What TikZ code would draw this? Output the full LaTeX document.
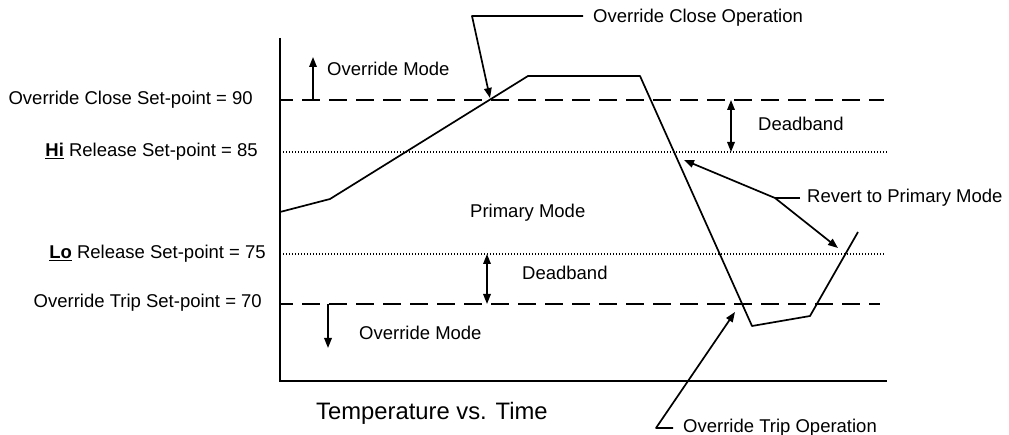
\documentclass[tikz,border=0pt]{standalone}
\usepackage{fontspec}
\setmainfont{Liberation Sans}
\usetikzlibrary{arrows.meta}

% bold, underlined lead word of a set-point label
\newcommand{\leadword}[1]{\setbox0\hbox{\textbf{#1}}\rlap{\raisebox{-2.6pt}{\rule{\wd0}{1.8pt}}}\box0\relax}

\tikzset{
  lbl/.style={font=\fontsize{18.5}{22}\selectfont, inner sep=0pt},
  title/.style={font=\fontsize{23.8}{28}\selectfont, inner sep=0pt},
  axisline/.style={line width=2pt},
  trace/.style={line width=1.7pt, line join=round},
  dashline/.style={line width=2pt, dash pattern=on 18pt off 9pt, dash phase=5pt},
  dotline/.style={line width=1.2pt, dash pattern=on 1.2pt off 1.8pt},
  callout/.style={line width=1.7pt, line join=round},
  tip/.style={-{Triangle[length=10pt,width=7.5pt]}},
  twotip/.style={{Triangle[length=10pt,width=7.5pt]}-{Triangle[length=10pt,width=7.5pt]}},
}

\begin{document}
\begin{tikzpicture}[x=1pt,y=-1pt]
\useasboundingbox (0,0) rectangle (1009,435);

% axes
\coordinate (ytop) at (280,38);
\coordinate (orig) at (280,381);
\coordinate (xend) at (887,381);
\draw[axisline] (ytop) -- (orig) -- (xend);

% set-point levels
\coordinate (c90a) at (280,100);  \coordinate (c90b) at (884,100);
\coordinate (c85a) at (280,152);  \coordinate (c85b) at (888,152);
\coordinate (c75a) at (280,254);  \coordinate (c75b) at (884,254);
\coordinate (c70a) at (280,304);  \coordinate (c70b) at (880,304);
\draw[dashline] (c90a) -- (c90b);
\draw[dotline]  (c85a) -- (c85b);
\draw[dotline]  (c75a) -- (c75b);
\draw[dashline] (c70a) -- (c70b);

% set-point labels
\node[lbl, anchor=east] (l90) at (253,100) {Override Close Set-point = 90};
\node[lbl, anchor=east] (l85) at (258,152) {\leadword{Hi} Release Set-point = 85};
\node[lbl, anchor=east] (l75) at (266,254) {\leadword{Lo} Release Set-point = 75};
\node[lbl, anchor=east] (l70) at (262,303) {Override Trip Set-point = 70};

% temperature trace
\coordinate (p0) at (280,212);
\coordinate (p1) at (330,199);
\coordinate (p2) at (528,76);
\coordinate (p3) at (640,76);
\coordinate (p4) at (752,326);
\coordinate (p5) at (810,316);
\coordinate (p6) at (858,232);
\draw[trace] (p0) -- (p1) -- (p2) -- (p3) -- (p4) -- (p5) -- (p6);

% mode indicators
\coordinate (upA) at (313,100);  \coordinate (upB) at (313,57);
\draw[callout, tip] (upA) -- (upB);
\node[lbl, anchor=west] (omU) at (327,69) {Override Mode};

\coordinate (dbA) at (731,100);  \coordinate (dbB) at (731,152);
\draw[callout, twotip] (dbA) -- (dbB);
\node[lbl, anchor=west] (dbU) at (758,124) {Deadband};

\node[lbl, anchor=west] (pm) at (470,213) {Primary Mode};

\coordinate (dlA) at (487,254);  \coordinate (dlB) at (487,304);
\draw[callout, twotip] (dlA) -- (dlB);
\node[lbl, anchor=west] (dbL) at (522,273) {Deadband};

\coordinate (dnA) at (328,304);  \coordinate (dnB) at (328,348);
\draw[callout, tip] (dnA) -- (dnB);
\node[lbl, anchor=west] (omL) at (359,333) {Override Mode};

% callouts
\node[lbl, anchor=west] (oco) at (593,18) {Override Close Operation};
\coordinate (ocoK) at (472,16);
\coordinate (ocoT) at (490,98);
\draw[callout, tip] (oco.west) ++(-10,-2) -- (ocoK) -- (ocoT);

\node[lbl, anchor=west] (rpm) at (807,198) {Revert to Primary Mode};
\coordinate (rpmK) at (775,198);
\coordinate (rpmT1) at (684,160);
\coordinate (rpmT2) at (838,248);
\draw[callout] (rpm.west) ++(-7,0) -- (rpmK);
\draw[callout, tip] (rpmK) -- (rpmT1);
\draw[callout, tip] (rpmK) -- (rpmT2);

\node[lbl, anchor=west] (oto) at (683,428) {Override Trip Operation};
\coordinate (otoK) at (656,428);
\coordinate (otoT) at (735,312);
\draw[callout, tip] (oto.west) ++(-10,0) -- (otoK) -- (otoT);

\node[title, anchor=west] (ttl) at (316,413) {Temperature vs. Time};
\end{tikzpicture}
\end{document}
